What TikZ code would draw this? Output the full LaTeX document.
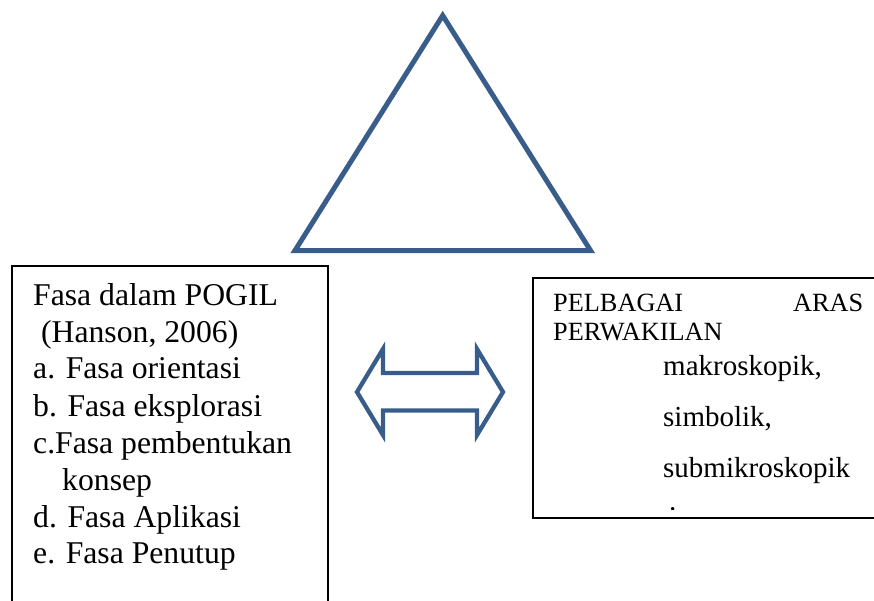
\documentclass[tikz,border=0pt]{standalone}
\usepackage{fontspec}
\setmainfont{Liberation Serif}
\definecolor{shapeblue}{RGB}{56,93,138}
\begin{document}
\begin{tikzpicture}[x=1pt,y=-1pt,
  boxline/.style={draw=black,line width=1.5pt},
  blueline/.style={draw=shapeblue,line width=5pt,line join=miter},
  arrowline/.style={draw=shapeblue,line width=4.3pt,line join=miter},
  lefttxt/.style={anchor=base west,inner sep=0pt,font=\fontsize{31.7}{36.8}\selectfont},
  headtxt/.style={inner sep=0pt,font=\fontsize{26.3}{30}\selectfont},
  listtxt/.style={anchor=base west,inner sep=0pt,font=\fontsize{29}{33}\selectfont}]
\useasboundingbox (0,0) rectangle (874,600);
% triangle
\coordinate (apex) at (442.7,15.5);
\coordinate (bl) at (295,250.5);
\coordinate (br) at (590.5,250.5);
\draw[blueline] (apex) -- (bl) -- (br) -- cycle;
% left box
\draw[boxline] (328,620) -- (328,266) -- (12,266) -- (12,620);
\node[lefttxt] (l1) at (33,305) {Fasa dalam POGIL};
\node[lefttxt] (l2) at (33,342) {\ (Hanson, 2006)};
\node[lefttxt] (l3) at (33,378.5) {a. Fasa orientasi};
\node[lefttxt] (l4) at (33,416) {b. Fasa eksplorasi};
\node[lefttxt] (l5) at (33,453) {c.Fasa pembentukan};
\node[lefttxt] (l6) at (62,490) {konsep};
\node[lefttxt] (l7) at (33,527) {d. Fasa Aplikasi};
\node[lefttxt] (l8) at (33,563.5) {e. Fasa Penutup};
% double arrow
\draw[arrowline] (357,392) -- (383,349) -- (383,373) -- (477,373) -- (477,349)
  -- (503,392) -- (477,435) -- (477,410.5) -- (383,410.5) -- (383,435) -- cycle;
% right box
\draw[boxline] (890,278) -- (533,278) -- (533,518) -- (890,518);
\node[headtxt,anchor=base west] (h1) at (553,311) {PELBAGAI};
\node[headtxt,anchor=base east] (h2) at (863.5,311) {ARAS};
\node[headtxt,anchor=base west] (h3) at (553,340) {PERWAKILAN};
\node[listtxt] (r1) at (663,375) {makroskopik,};
\node[listtxt] (r2) at (663,426) {simbolik,};
\node[listtxt] (r3) at (663,477) {submikroskopik};
\begin{scope}
\clip (534,279) rectangle (873,509.3);
\node[listtxt] (r4) at (669,510.8) {.};
\end{scope}
\end{tikzpicture}
\end{document}
